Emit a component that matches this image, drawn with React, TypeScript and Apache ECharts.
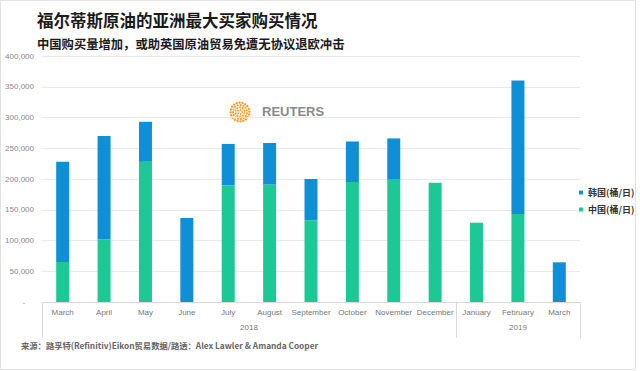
import React, { useEffect, useRef } from "react";
import * as echarts from "echarts";

const months = ["March", "April", "May", "June", "July", "August", "September", "October", "November", "December", "January", "February", "March"];
const chinaValues = [65000, 102000, 228000, 0, 190000, 191000, 133000, 195000, 199000, 194000, 129000, 143000, 0];
const koreaTotals = [228000, 270000, 293000, 136500, 257000, 258500, 200000, 261000, 266000, 194000, 129000, 360000, 64500];
const koreaValues = koreaTotals.map((t, i) => t - chinaValues[i]);
const yearLabels = ["2018", "2019"];
const yearCenters = [5, 11.5];
const yearBoundaries = [0, 10, 13];
const seriesNames = ["中国(桶/日)", "韩国(桶/日)"];
const yTicks = { min: 0, max: 400000, interval: 50000 };

const CJK = "'Noto Sans CJK SC', 'Noto Sans', sans-serif";
const LAT = "'Liberation Sans', Arial, sans-serif";

function logoDots(cx: number, cy: number) {
  const dots: any[] = [];
  const rings = [
    { r: 2.2, n: 5, s: 0.9 },
    { r: 4.6, n: 10, s: 1.0 },
    { r: 7.0, n: 15, s: 1.1 },
    { r: 9.4, n: 20, s: 1.2 },
  ];
  rings.forEach((ring, k) => {
    for (let i = 0; i < ring.n; i++) {
      const a = (i / ring.n) * Math.PI * 2 + k * 0.3;
      dots.push({
        type: "circle",
        shape: { cx: cx + ring.r * Math.cos(a), cy: cy + ring.r * Math.sin(a), r: ring.s },
        style: { fill: "#f29b30" },
      });
    }
  });
  return dots;
}

export default function App() {
  const ref = useRef<HTMLDivElement>(null);
  useEffect(() => {
    if (!ref.current) return;
    const chart = echarts.init(ref.current, null, { renderer: "svg" });
    chart.setOption({
      animation: false,
      backgroundColor: "#ffffff",
      grid: { left: 42, right: 60, top: 56, bottom: 69, containLabel: false },
      legend: {
        data: [seriesNames[1], seriesNames[0]],
        orient: "vertical",
        left: 574,
        top: 183,
        icon: "rect",
        itemWidth: 4,
        itemHeight: 4,
        itemGap: 8,
        textStyle: { fontFamily: CJK, fontSize: 9, fontWeight: "bold", color: "#333" },
      },
      xAxis: [
        {
          type: "category",
          data: months,
          axisLine: { show: true, lineStyle: { color: "#d9d9d9" } },
          axisTick: { show: false },
          axisLabel: { interval: 0, color: "#777", fontSize: 8, fontFamily: LAT, margin: 6 },
          splitLine: { show: false },
        },
        {
          type: "value",
          min: 0,
          max: 13,
          position: "bottom",
          axisLine: { show: false },
          splitLine: { show: false },
          axisTick: { show: true, customValues: yearBoundaries, length: 36, lineStyle: { color: "#d9d9d9" } },
          axisLabel: {
            customValues: yearCenters,
            formatter: (v: number) => yearLabels[yearCenters.indexOf(v)] ?? "",
            color: "#777",
            fontSize: 8,
            fontFamily: LAT,
            margin: 21,
          },
        },
      ],
      yAxis: {
        type: "value",
        min: yTicks.min,
        max: yTicks.max,
        interval: yTicks.interval,
        axisLine: { show: false },
        axisTick: { show: false },
        axisLabel: {
          color: "#888",
          fontSize: 8,
          fontFamily: LAT,
          margin: 8,
          formatter: (v: number) => (v === 0 ? "-    " : v.toLocaleString("en-US")),
        },
        splitLine: { show: true, lineStyle: { color: "#e8e8e8" } },
      },
      series: [
        {
          name: seriesNames[0],
          type: "bar",
          stack: "total",
          barWidth: 13,
          xAxisIndex: 0,
          itemStyle: { color: "#1cc996" },
          data: chinaValues,
        },
        {
          name: seriesNames[1],
          type: "bar",
          stack: "total",
          barWidth: 13,
          xAxisIndex: 0,
          itemStyle: { color: "#0f8fd6" },
          data: koreaValues,
        },
      ],
      graphic: [
        {
          type: "rect",
          shape: { x: 0.5, y: 0.5, width: 635, height: 369 },
          style: { fill: "none", stroke: "#e2e2e2", lineWidth: 1 },
          silent: true,
          z: 0,
        },
        {
          type: "text",
          left: 37,
          top: 12,
          style: { text: "福尔蒂斯原油的亚洲最大买家购买情况", fontFamily: CJK, fontSize: 16.5, fontWeight: "bold", fill: "#1a1a1a" },
        },
        {
          type: "text",
          left: 37,
          top: 38,
          style: { text: "中国购买量增加，或助英国原油贸易免遭无协议退欧冲击", fontFamily: CJK, fontSize: 12.3, fontWeight: "bold", fill: "#1a1a1a" },
        },
        {
          type: "group",
          z: 50,
          children: [
            { type: "rect", shape: { x: 222, y: 98, width: 112, height: 28 }, style: { fill: "#ffffff" } },
            ...logoDots(240, 112),
            {
              type: "text",
              x: 262,
              y: 105,
              style: { text: "REUTERS", fontFamily: LAT, fontSize: 13, fontWeight: "bold", fill: "#8a8a8a" },
            },
          ],
        },
        {
          type: "text",
          left: 21,
          top: 341,
          style: {
            text: "来源：路孚特(Refinitiv)Eikon贸易数据/路透：Alex Lawler & Amanda Cooper",
            fontFamily: CJK,
            fontSize: 8.3,
            fontWeight: "bold",
            fill: "#666",
          },
        },
      ],
    });
    return () => chart.dispose();
  }, []);
  return <div ref={ref} style={{ position: "fixed", left: 0, top: 0, width: 640, height: 371 }} />;
}
